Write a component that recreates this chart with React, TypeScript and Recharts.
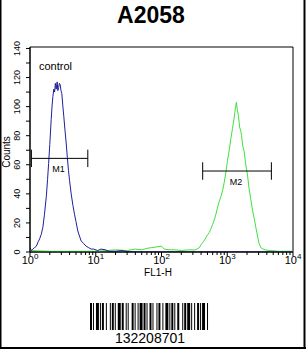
import React from "react";
import { LineChart, Line, XAxis, YAxis, ReferenceArea, ReferenceLine } from "recharts";

// control (blue) histogram, FL1-H channel value vs counts
const controlFL = [1.0, 1.05, 1.1, 1.17, 1.25, 1.33, 1.4, 1.48, 1.57, 1.66, 1.77, 1.85, 1.92, 2.0, 2.1, 2.17, 2.23, 2.3, 2.37, 2.43, 2.5, 2.59, 2.65, 2.72, 2.8, 2.88, 2.96, 3.05, 3.15, 3.27, 3.4, 3.55, 3.7, 3.85, 4.0, 4.23, 4.5, 4.75, 5.0, 5.33, 5.65, 6.0, 6.5, 7.13, 7.8, 8.51, 9.3, 10.7, 12, 14, 16, 20, 25, 30, 40, 100, 1000, 10000];
const controlCounts = [3, 1, 2, 3, 4, 7, 9, 12, 17, 26, 38, 50, 61, 74, 91, 101, 107, 112, 110, 116, 112, 117, 111, 113, 116, 115, 111, 109, 101, 93, 84, 75, 65, 56, 49, 40, 32, 26, 21, 14.5, 11, 7.6, 6, 4, 3, 2, 2, 1, 2, 1.5, 0.5, 0.5, 1, 0.3, 0, 0, 0, 0];

// A2058 (green) histogram
const sampleFL = [1, 2, 5, 10, 15, 20, 30, 40, 50, 60, 70, 85, 100, 110, 130, 160, 200, 260, 316, 345, 377, 400, 423, 450, 475, 505, 533, 565, 600, 635, 673, 715, 757, 800, 849, 900, 955, 1010, 1072, 1135, 1202, 1260, 1306, 1340, 1380, 1420, 1479, 1540, 1610, 1650, 1720, 1811, 1900, 2032, 2140, 2286, 2420, 2570, 2720, 2884, 3050, 3236, 3500, 3855, 4500, 6000, 10000];
const sampleCounts = [1, 0.5, 0.5, 0.5, 1, 1.5, 1, 2, 1.5, 2.5, 3, 3.5, 4, 2, 1.5, 1.5, 1, 1.5, 1.4, 2, 3, 5, 6.4, 8, 10, 12, 13.4, 16, 19, 22, 26, 31, 35, 38, 42, 48, 55, 63, 70, 78, 85, 91, 96, 100, 103, 98, 94, 86, 83, 80, 73, 69, 61, 53, 44, 36, 29, 23, 17, 11, 6, 3, 2, 1.4, 1, 0.5, 0.5];

const xTicks = [1, 2, 3, 4, 5, 6, 7, 8, 9, 10, 20, 30, 40, 50, 60, 70, 80, 90, 100, 200, 300, 400, 500, 600, 700, 800, 900, 1000, 2000, 3000, 4000, 5000, 6000, 7000, 8000, 9000, 10000];
const yTicks = [0, 10, 20, 30, 40, 50, 60, 70, 80, 90, 100, 110, 120, 130, 140];

// marker gates: [start, end, level]
const m1 = [1.05, 7.57, 64.4];
const m2 = [423, 4690, 55.7];

const barWidths = [2, 1, 1, 2, 3, 1, 1, 1, 2, 2, 1, 3, 1, 1, 2, 1, 1, 2, 3, 1, 2, 2, 1, 1, 1, 3, 2, 1, 1, 2, 1, 1, 3, 1, 2, 1, 1, 2, 2, 1, 1, 3, 1, 1, 2, 2, 1, 2, 3, 1, 1, 1, 2, 1, 1, 2, 2, 3, 1, 1, 2, 1, 3, 1, 1, 2, 1, 2, 2, 1, 1, 1, 3, 2, 1, 2];

const controlData = controlFL.map((fl, i) => ({ fl, count: controlCounts[i] }));
const sampleData = sampleFL.map((fl, i) => ({ fl, count: sampleCounts[i] }));

const FONT = "'Liberation Sans', Arial, sans-serif";

const XTick = (props: any) => {
  const { x, y, payload } = props;
  const v = payload.value;
  const exp = Math.round(Math.log10(v));
  const major = Math.abs(Math.log10(v) - exp) < 1e-6;
  return (
    <g>
      <line x1={x} x2={x} y1={y} y2={y + (major ? 4 : 3)} stroke="#000" />
      {major && (
        <text x={x} y={y + 12} textAnchor="middle" fontFamily={FONT} fontSize={11} fill="#000">
          10
          <tspan dy={-5} fontSize={8}>{exp}</tspan>
        </text>
      )}
    </g>
  );
};

const YTick = (props: any) => {
  const { x, y, payload } = props;
  const v = payload.value;
  return (
    <g>
      <line x1={x - 4} x2={x} y1={y} y2={y} stroke="#000" />
      {v % 20 === 0 && (
        <text
          transform={`translate(${x - 13},${y}) rotate(-90)`}
          textAnchor="middle"
          dominantBaseline="central"
          fontFamily={FONT}
          fontSize={9}
          fill="#000"
        >
          {v}
        </text>
      )}
    </g>
  );
};

const gateLabel = (name: string) => (props: any) => {
  const { viewBox } = props;
  return (
    <text x={viewBox.x + viewBox.width / 2 - 1} y={viewBox.y + 14} textAnchor="middle" fontFamily={FONT} fontSize={9} fill="#000">
      {name}
    </text>
  );
};

export default function App() {
  const barTotal = barWidths.reduce((a, b) => a + b, 0);
  const unit = 120 / barTotal;
  let cursor = 90;
  const bars: React.ReactNode[] = [];
  barWidths.forEach((w, i) => {
    if (i % 2 === 0) bars.push(<rect key={i} x={cursor} y={303} width={w * unit} height={27} fill="#000" />);
    cursor += w * unit;
  });

  const gates = [
    { g: m1, name: "M1" },
    { g: m2, name: "M2" },
  ];

  return (
    <div style={{ position: "absolute", left: 0, top: 0, width: 306, height: 349, background: "#fff" }}>
      <LineChart width={306} height={349} margin={{ top: 47, right: 13, bottom: 67, left: 0 }}>
        <XAxis
          dataKey="fl"
          type="number"
          scale="log"
          domain={[1, 10000]}
          ticks={xTicks}
          interval={0}
          tick={<XTick />}
          tickLine={false}
          tickSize={0}
          tickMargin={0}
          axisLine={{ stroke: "#000" }}
          height={30}
          allowDataOverflow
        />
        <YAxis
          type="number"
          domain={[0, 141]}
          ticks={yTicks}
          interval={0}
          tick={<YTick />}
          tickLine={false}
          tickSize={0}
          tickMargin={0}
          axisLine={{ stroke: "#000" }}
          width={30}
          allowDataOverflow
        />
        <ReferenceArea x1={1} x2={10000} y1={0} y2={141} fill="none" stroke="#000" strokeWidth={1} />
        <Line data={sampleData} dataKey="count" type="linear" stroke="#3fe03f" strokeWidth={1} dot={false} isAnimationActive={false} />
        <Line data={controlData} dataKey="count" type="linear" stroke="#1f1f9c" strokeWidth={1} dot={false} isAnimationActive={false} />
        {gates.map(({ g, name }) => (
          <ReferenceLine
            key={name}
            segment={[{ x: g[0], y: g[2] }, { x: g[1], y: g[2] }]}
            stroke="#000"
            label={gateLabel(name)}
          />
        ))}
        {gates.map(({ g, name }) => (
          <ReferenceLine key={name + "a"} segment={[{ x: g[0], y: g[2] - 6 }, { x: g[0], y: g[2] + 6 }]} stroke="#000" />
        ))}
        {gates.map(({ g, name }) => (
          <ReferenceLine key={name + "b"} segment={[{ x: g[1], y: g[2] - 6 }, { x: g[1], y: g[2] + 6 }]} stroke="#000" />
        ))}
      </LineChart>
      <svg width={306} height={349} style={{ position: "absolute", left: 0, top: 0, pointerEvents: "none" }}>
        <text x={151} y={23} textAnchor="middle" fontFamily={FONT} fontWeight="bold" fontSize={23} fill="#000">
          A2058
        </text>
        <text x={39} y={70} fontFamily={FONT} fontSize={11} fill="#000">
          control
        </text>
        <text transform="translate(6,152) rotate(-90)" textAnchor="middle" dominantBaseline="central" fontFamily={FONT} fontSize={10} fill="#000">
          Counts
        </text>
        <text x={158} y={276} textAnchor="middle" fontFamily={FONT} fontSize={10} fill="#000">
          FL1-H
        </text>
        {bars}
        <text x={150} y={343} textAnchor="middle" fontFamily={FONT} fontSize={14} fill="#000">
          132208701
        </text>
        <line x1={0.75} y1={0} x2={0.75} y2={349} stroke="#000" strokeWidth={1.5} />
        <line x1={304.5} y1={0} x2={304.5} y2={349} stroke="#000" strokeWidth={2} />
        <line x1={0} y1={348} x2={306} y2={348} stroke="#000" strokeWidth={2} />
      </svg>
    </div>
  );
}
